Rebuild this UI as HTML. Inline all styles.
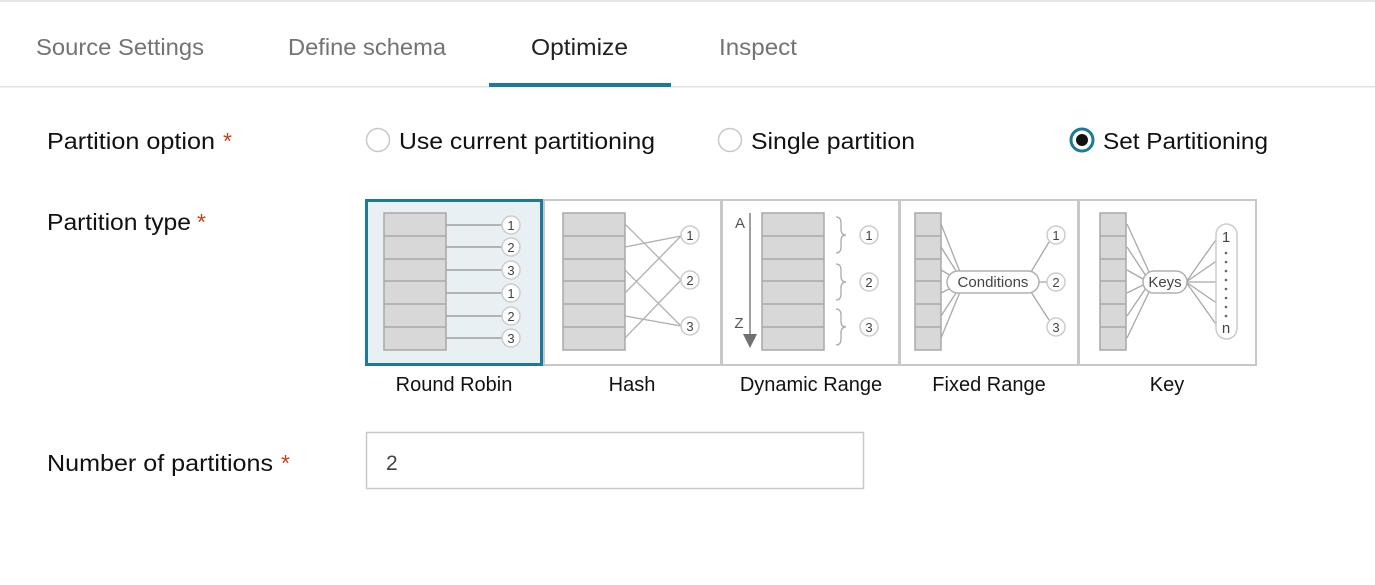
<!DOCTYPE html>
<html><head><meta charset="utf-8"><style>
html,body{margin:0;padding:0;background:#fff;width:1375px;height:585px;overflow:hidden}
svg text{font-family:"Liberation Sans",sans-serif}
</style></head><body>
<svg width="1375" height="585" viewBox="0 0 1375 585" xmlns="http://www.w3.org/2000/svg">
<rect x="0" y="0" width="1375" height="2" fill="#e6e6e6"/>
<rect x="0" y="86" width="1375" height="1.5" fill="#e1e1e1"/>
<rect x="489" y="83" width="182" height="4" fill="#1b7a9a"/>
<g font-size="23">
<text x="36" y="55" fill="#737373" textLength="168" lengthAdjust="spacingAndGlyphs">Source Settings</text>
<text x="288" y="55" fill="#737373" textLength="158" lengthAdjust="spacingAndGlyphs">Define schema</text>
<text x="531" y="55" fill="#222" textLength="97" lengthAdjust="spacingAndGlyphs">Optimize</text>
<text x="719" y="55" fill="#737373" textLength="78" lengthAdjust="spacingAndGlyphs">Inspect</text>

<text x="47" y="149" fill="#111" textLength="168" lengthAdjust="spacingAndGlyphs">Partition option</text>
<text x="223" y="149" fill="#c8401a">*</text>
<text x="47" y="230" fill="#111" textLength="144" lengthAdjust="spacingAndGlyphs">Partition type</text>
<text x="197" y="230" fill="#c8401a">*</text>
<text x="47" y="471" fill="#111" textLength="226" lengthAdjust="spacingAndGlyphs">Number of partitions</text>
<text x="281" y="471" fill="#c8401a">*</text>

<circle cx="378" cy="140" r="11.5" fill="#fff" stroke="#c8c8c8" stroke-width="1.5"/>
<text x="399" y="149" fill="#111" textLength="256" lengthAdjust="spacingAndGlyphs">Use current partitioning</text>
<circle cx="730" cy="140" r="11.5" fill="#fff" stroke="#c8c8c8" stroke-width="1.5"/>
<text x="751" y="149" fill="#111" textLength="164" lengthAdjust="spacingAndGlyphs">Single partition</text>
<circle cx="1082" cy="140" r="11" fill="#fff" stroke="#1b7a9a" stroke-width="3"/>
<circle cx="1082" cy="140" r="6" fill="#111"/>
<text x="1103" y="149" fill="#111" textLength="165" lengthAdjust="spacingAndGlyphs">Set Partitioning</text>
</g>

<g fill="#fff" stroke="#c8c8c8" stroke-width="2">
<rect x="544" y="200" width="177" height="165"/>
<rect x="722" y="200" width="177" height="165"/>
<rect x="900" y="200" width="178" height="165"/>
<rect x="1079" y="200" width="177" height="165"/>
</g>
<rect x="366.5" y="200.5" width="175" height="164" fill="#e8f0f3" stroke="#1b7a9a" stroke-width="3"/>

<g font-size="20" fill="#111">
<text x="454" y="391" text-anchor="middle">Round Robin</text>
<text x="632" y="391" text-anchor="middle">Hash</text>
<text x="811" y="391" text-anchor="middle">Dynamic Range</text>
<text x="989" y="391" text-anchor="middle">Fixed Range</text>
<text x="1167" y="391" text-anchor="middle">Key</text>
</g>

<defs>
<g id="stack6">
<rect x="0" y="0" width="62" height="137" fill="#d8d8d8" stroke="#a8a8a8" stroke-width="1.5"/>
<g stroke="#a8a8a8" stroke-width="1.5"><line x1="0" y1="23" x2="62" y2="23"/><line x1="0" y1="46" x2="62" y2="46"/><line x1="0" y1="68" x2="62" y2="68"/><line x1="0" y1="91" x2="62" y2="91"/><line x1="0" y1="114" x2="62" y2="114"/></g>
</g>
<g id="stackN">
<rect x="0" y="0" width="26" height="137" fill="#d8d8d8" stroke="#a8a8a8" stroke-width="1.5"/>
<g stroke="#a8a8a8" stroke-width="1.5"><line x1="0" y1="23" x2="26" y2="23"/><line x1="0" y1="46" x2="26" y2="46"/><line x1="0" y1="68" x2="26" y2="68"/><line x1="0" y1="91" x2="26" y2="91"/><line x1="0" y1="114" x2="26" y2="114"/></g>
</g>
</defs>

<g font-size="13" fill="#444" text-anchor="middle">
<use href="#stack6" x="384" y="213"/>
<g stroke="#a0a0a0" stroke-width="1.5">
<line x1="446" y1="225" x2="502" y2="225"/><line x1="446" y1="247" x2="502" y2="247"/><line x1="446" y1="270" x2="502" y2="270"/><line x1="446" y1="293" x2="502" y2="293"/><line x1="446" y1="316" x2="502" y2="316"/><line x1="446" y1="338" x2="502" y2="338"/>
</g>
<g fill="#fff" stroke="#ccc" stroke-width="1.5">
<circle cx="511" cy="225" r="9"/><circle cx="511" cy="247" r="9"/><circle cx="511" cy="270" r="9"/><circle cx="511" cy="293" r="9"/><circle cx="511" cy="316" r="9"/><circle cx="511" cy="338" r="9"/>
</g>
<text x="511" y="230">1</text><text x="511" y="252">2</text><text x="511" y="275">3</text><text x="511" y="298">1</text><text x="511" y="321">2</text><text x="511" y="343">3</text>

<use href="#stack6" x="563" y="213"/>
<g stroke="#b0b0b0" stroke-width="1.3">
<line x1="625" y1="224" x2="681" y2="280"/><line x1="625" y1="247" x2="681" y2="236"/><line x1="625" y1="270" x2="681" y2="326"/><line x1="625" y1="293" x2="681" y2="236"/><line x1="625" y1="316" x2="681" y2="326"/><line x1="625" y1="338" x2="681" y2="280"/>
</g>
<g fill="#fff" stroke="#ccc" stroke-width="1.5"><circle cx="690" cy="235" r="9"/><circle cx="690" cy="280" r="9"/><circle cx="690" cy="326" r="9"/></g>
<text x="690" y="240">1</text><text x="690" y="285">2</text><text x="690" y="331">3</text>

<use href="#stack6" x="762" y="213"/>
<line x1="750" y1="213" x2="750" y2="336" stroke="#808080" stroke-width="1.5"/>
<polygon points="743,334 757,334 750,348" fill="#707070"/>
<text x="740" y="228" font-size="15" fill="#555">A</text>
<text x="739" y="328" font-size="15" fill="#555">Z</text>
<g fill="none" stroke="#aaa" stroke-width="1.3">
<path d="M836,217 q5,0 5,6 v6 q0,6 5,6 q-5,0 -5,6 v6 q0,6 -5,6"/>
<path d="M836,264 q5,0 5,6 v6 q0,6 5,6 q-5,0 -5,6 v6 q0,6 -5,6"/>
<path d="M836,309 q5,0 5,6 v6 q0,6 5,6 q-5,0 -5,6 v6 q0,6 -5,6"/>
</g>
<g fill="#fff" stroke="#ccc" stroke-width="1.5"><circle cx="869" cy="235" r="9"/><circle cx="869" cy="282" r="9"/><circle cx="869" cy="327" r="9"/></g>
<text x="869" y="240">1</text><text x="869" y="287">2</text><text x="869" y="332">3</text>

<use href="#stackN" x="915" y="213"/>
<g stroke="#a8a8a8" stroke-width="1.3">
<line x1="941" y1="224" x2="960" y2="272"/><line x1="941" y1="247" x2="958" y2="274"/><line x1="941" y1="270" x2="955" y2="278"/><line x1="941" y1="293" x2="955" y2="286"/><line x1="941" y1="316" x2="958" y2="290"/><line x1="941" y1="338" x2="960" y2="292"/>
<line x1="1031" y1="272" x2="1049" y2="242"/><line x1="1039" y1="282" x2="1047" y2="282"/><line x1="1031" y1="292" x2="1049" y2="320"/>
</g>
<rect x="947" y="271" width="92" height="22" rx="11" fill="#fff" stroke="#b0b0b0" stroke-width="1.5"/>
<text x="993" y="287" font-size="15">Conditions</text>
<g fill="#fff" stroke="#ccc" stroke-width="1.5"><circle cx="1056" cy="235" r="9"/><circle cx="1056" cy="282" r="9"/><circle cx="1056" cy="327" r="9"/></g>
<text x="1056" y="240">1</text><text x="1056" y="287">2</text><text x="1056" y="332">3</text>

<use href="#stackN" x="1100" y="213"/>
<g stroke="#a8a8a8" stroke-width="1.3">
<line x1="1127" y1="224" x2="1150" y2="274"/><line x1="1127" y1="247" x2="1146" y2="276"/><line x1="1127" y1="270" x2="1143" y2="279"/><line x1="1127" y1="293" x2="1143" y2="285"/><line x1="1127" y1="316" x2="1146" y2="288"/><line x1="1127" y1="338" x2="1150" y2="290"/>
<line x1="1186" y1="282" x2="1218" y2="237"/><line x1="1186" y1="282" x2="1218" y2="260"/><line x1="1186" y1="282" x2="1218" y2="282"/><line x1="1186" y1="282" x2="1218" y2="304"/><line x1="1186" y1="282" x2="1218" y2="327"/>
</g>
<rect x="1143" y="271" width="44" height="22" rx="11" fill="#fff" stroke="#b0b0b0" stroke-width="1.5"/>
<text x="1165" y="287" font-size="15">Keys</text>
<rect x="1216" y="224" width="21" height="115" rx="10.5" fill="#fff" stroke="#ccc" stroke-width="1.5"/>
<text x="1226" y="242" font-size="15">1</text>
<g fill="#666"><circle cx="1226" cy="253" r="1.3"/><circle cx="1226" cy="262" r="1.3"/><circle cx="1226" cy="271" r="1.3"/><circle cx="1226" cy="280" r="1.3"/><circle cx="1226" cy="289" r="1.3"/><circle cx="1226" cy="298" r="1.3"/><circle cx="1226" cy="307" r="1.3"/><circle cx="1226" cy="316" r="1.3"/></g>
<text x="1226" y="333" font-size="15">n</text>
</g>

<rect x="366.5" y="432.5" width="497" height="56" fill="#fff" stroke="#c8c8c8" stroke-width="1.5"/>
<text x="386" y="470" font-size="21" fill="#444">2</text>
</svg>
</body></html>
